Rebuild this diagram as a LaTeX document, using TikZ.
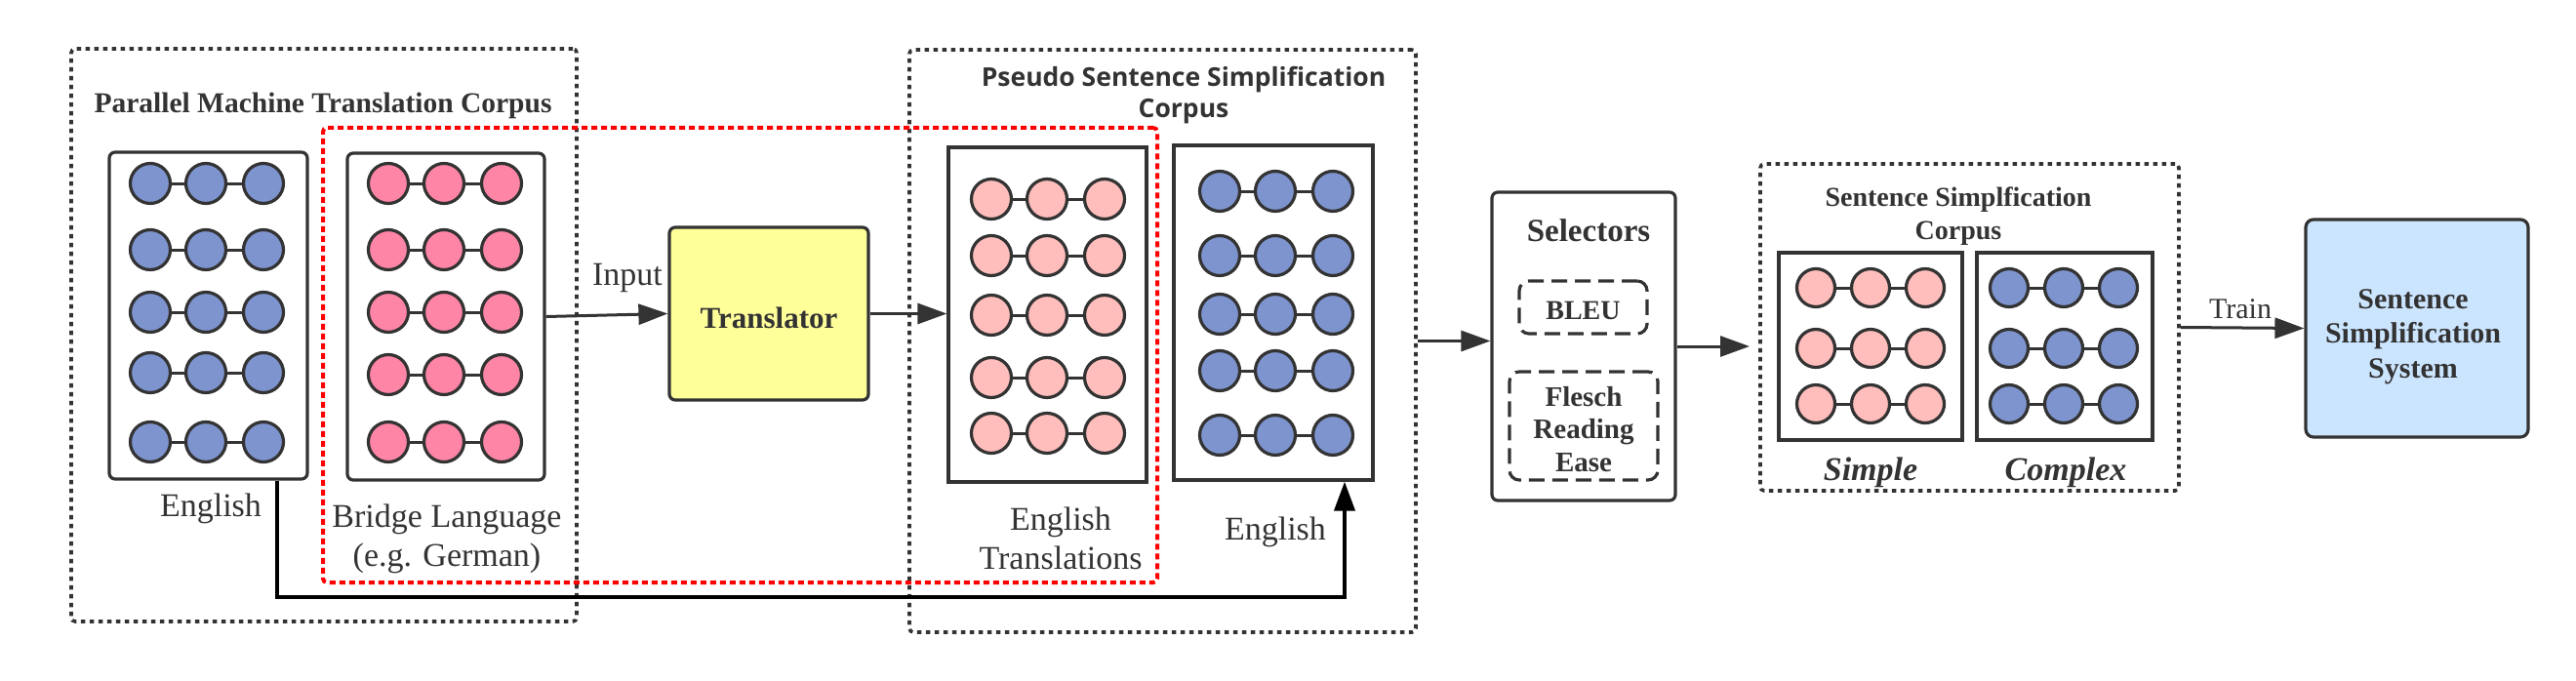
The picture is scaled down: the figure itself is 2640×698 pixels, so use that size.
\documentclass[tikz,border=0pt]{standalone}
\usepackage{fontspec}
\setmainfont{Liberation Serif}
\newfontfamily\titlesans{Open Sans}
\usetikzlibrary{arrows.meta,calc}
\definecolor{ink}{RGB}{51,51,51}
\definecolor{dotblue}{RGB}{126,148,206}
\definecolor{dotpink}{RGB}{255,133,166}
\definecolor{dotlight}{RGB}{255,190,188}
\definecolor{tyellow}{RGB}{255,255,153}
\definecolor{sysblue}{RGB}{204,229,255}
\newcommand{\dotrow}[7]{%
  \node[dot,fill=#6,minimum size=#7] (#1a) at (#2,#5) {};
  \node[dot,fill=#6,minimum size=#7] (#1b) at (#3,#5) {};
  \node[dot,fill=#6,minimum size=#7] (#1c) at (#4,#5) {};
  \draw[link] (#1a) -- (#1b);
  \draw[link] (#1b) -- (#1c);}
\begin{document}
\begin{tikzpicture}[x=1pt,y=-1pt,
  frame/.style={draw=ink, line width=3.6pt, dash pattern=on 4.5pt off 4.5pt, rounded corners=4pt, inner sep=0},
  redframe/.style={draw=red, line width=4pt, dash pattern=on 6pt off 4pt, rounded corners=4pt, inner sep=0},
  cbox/.style={draw=ink, line width=3.2pt, fill=white, inner sep=0},
  rcbox/.style={cbox, rounded corners=6pt},
  dashbox/.style={draw=ink, line width=3.2pt, dash pattern=on 16pt off 8pt, rounded corners=10pt, inner sep=0},
  dot/.style={circle, draw=ink, line width=3.2pt, inner sep=0},
  link/.style={draw=ink, line width=3pt},
  arr/.style={draw=ink, line width=3pt, -{Triangle[length=30pt,width=21pt]}},
  barr/.style={draw=black, line width=4pt, -{Triangle[length=30pt,width=21pt]}},
  lbl/.style={text=ink, inner sep=0, align=center, font=\fontsize{34}{40}\selectfont},
  blbl/.style={text=ink, inner sep=0, align=center, font=\fontsize{29}{34}\selectfont\bfseries},
]
\useasboundingbox (0,0) rectangle (2640,698);

% frames
\node[frame, minimum width=518pt, minimum height=587pt] (f1) at (332,343.5) {};
\node[frame, minimum width=519pt, minimum height=597pt] (f2) at (1191.5,349.5) {};
\node[redframe, minimum width=855pt, minimum height=466pt] (fr) at (758.5,364) {};
\node[frame, minimum width=429pt, minimum height=335pt] (f3) at (2018.5,335.5) {};

% titles
\node[blbl, font=\fontsize{29.5}{34}\selectfont\bfseries] (t1) at (331,108) {Parallel Machine Translation Corpus};
\node[text=ink, inner sep=0, align=center, font=\fontsize{26.5}{32}\titlesans\bfseries] (t2) at (1213,98) {Pseudo Sentence Simplification\\Corpus};
\node[blbl, font=\fontsize{28}{34}\selectfont\bfseries] (t3) at (2007,222) {Sentence Simplfication\\Corpus};

% English (parallel) box
\node[rcbox, minimum width=203pt, minimum height=335pt] (eA) at (213.5,323.5) {};
\foreach \yy [count=\i] in {188,256,320,382,453} {\dotrow{ea\i}{154}{211}{270}{\yy}{dotblue}{41pt}}
% Bridge box
\node[rcbox, minimum width=202pt, minimum height=335pt] (bB) at (457,324.5) {};
\foreach \yy [count=\i] in {188,256,320,384,453} {\dotrow{bb\i}{398}{455}{514}{\yy}{dotpink}{41pt}}

\node[lbl] (lEn) at (216,521) {English};
\node[lbl] (lBr) at (458,552) {Bridge Language\\(e.g. German)};

% Translator
\node[rcbox, fill=tyellow, minimum width=204pt, minimum height=177pt] (tr) at (788,321.5) {};
\node[blbl, font=\fontsize{31}{36}\selectfont\bfseries] (trt) at (788,326) {Translator};
\node[lbl] (lIn) at (643,285) {Input};

% English translations box
\node[cbox, minimum width=203pt, minimum height=343pt] (eT) at (1073.5,322.5) {};
\foreach \yy [count=\i] in {204,262,323,387,444} {\dotrow{et\i}{1016}{1073}{1132}{\yy}{dotlight}{41pt}}
% English box 2
\node[cbox, minimum width=204pt, minimum height=343pt] (e2) at (1305,320.5) {};
\foreach \yy [count=\i] in {196,262,322,380,446} {\dotrow{ee\i}{1250}{1307}{1366}{\yy}{dotblue}{41pt}}

\node[lbl] (lET) at (1087,552) {English\\Translations};
\node[lbl] (lE2) at (1307,545) {English};

% Selectors
\node[rcbox, minimum width=188pt, minimum height=316pt] (sel) at (1623,355) {};
\node[blbl, font=\fontsize{33}{38}\selectfont\bfseries] (selt) at (1628,236) {Selectors};
\node[dashbox, minimum width=131pt, minimum height=54pt] (bleu) at (1622.5,315) {};
\node[blbl, font=\fontsize{28}{33}\selectfont\bfseries] (bleut) at (1622.5,318) {BLEU};
\node[dashbox, minimum width=152pt, minimum height=111pt] (fre) at (1623,436.5) {};
\node[blbl, font=\fontsize{29}{33.5}\selectfont\bfseries] (fret) at (1623,440) {Flesch\\Reading\\Ease};

% Sentence simplification corpus
\node[cbox, minimum width=188pt, minimum height=192pt] (sS) at (1917,355) {};
\foreach \yy [count=\i] in {295,357,414} {\dotrow{ss\i}{1861}{1917}{1973}{\yy}{dotlight}{39pt}}
\node[cbox, minimum width=180pt, minimum height=192pt] (sC) at (2116,355) {};
\foreach \yy [count=\i] in {295,357,414} {\dotrow{sc\i}{2059}{2115}{2171}{\yy}{dotblue}{39pt}}
\node[blbl, font=\fontsize{34}{40}\selectfont\bfseries\itshape] (lS) at (1917,484) {Simple};
\node[blbl, font=\fontsize{34}{40}\selectfont\bfseries\itshape] (lC) at (2117,484) {Complex};

% System
\node[rcbox, fill=sysblue, rounded corners=8pt, minimum width=228pt, minimum height=223pt] (sys) at (2477,336.5) {};
\node[blbl, font=\fontsize{30}{35.5}\selectfont\bfseries] (syst) at (2473,345) {Sentence\\Simplification\\System};
\node[text=ink, inner sep=0, font=\fontsize{30}{36}\selectfont] (lTr) at (2296,317) {Train};

% connectors
\draw[arr] (bB.east) -- (tr.west);
\draw[arr] (tr.east) -- (eT.west |- tr.east);
\draw[arr] (f2.east) -- (sel.west |- f2.east);
\coordinate (s3) at (1793,355);
\draw[arr] (sel.east) -- (s3);
\draw[arr] (f3.east) -- (sys.west);
\coordinate (bx) at (284,0);
\coordinate (ex) at (1378,0);
\coordinate (by) at (0,612);
\draw[barr] (bx |- eA.south) |- (ex |- by) -- (ex |- e2.south);
\end{tikzpicture}
\end{document}
